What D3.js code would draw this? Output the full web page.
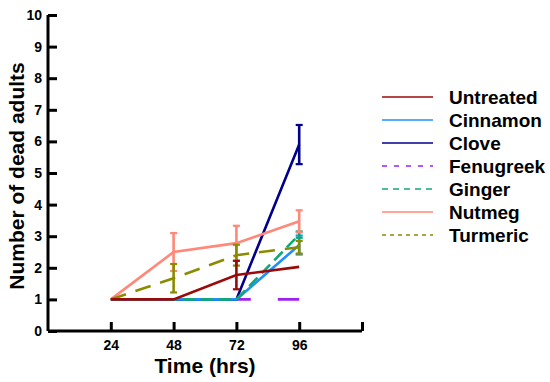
<!DOCTYPE html>
<html>
<head>
<meta charset="utf-8">
<script src="https://cdn.jsdelivr.net/npm/d3@7"></script>
<style>
  body { margin: 0; background: #fff; }
  text { font-family: Arial, "Liberation Sans", sans-serif; font-weight: bold; }
</style>
</head>
<body>
<svg id="chart"></svg>
<script>
const width = 550;
const height = 382;

// Data
const times = [24, 48, 72, 96];
const series = ['Untreated', 'Cinnamon', 'Clove', 'Fenugreek', 'Ginger', 'Nutmeg', 'Turmeric'];
const untreated = [1, 1, 1.77, 2.03];
const cinnamon = [1, 1, 1, 2.72];
const clove = [1, 1, 1, 5.9];
const fenugreek = [1, 1, 1, 1];
const ginger = [1, 1, 1, 3.05];
const nutmeg = [1, 2.5, 2.78, 3.47];
const turmeric = [1, 1.67, 2.4, 2.65];
// error (half-width) per point
const untreatedErr = [0, 0, 0.45, 0];
const cinnamonErr = [0, 0, 0, 0.3];
const cloveErr = [0, 0, 0, 0.62];
const fenugreekErr = [0, 0, 0, 0];
const gingerErr = [0, 0, 0, 0.1];
const nutmegErr = [0, 0.6, 0.55, 0.35];
const turmericErr = [0, 0.45, 0.33, 0.2];
const yTicks = [0, 1, 2, 3, 4, 5, 6, 7, 8, 9, 10];
const xTicks = [24, 48, 72, 96, 120];

const values = [untreated, cinnamon, clove, fenugreek, ginger, nutmeg, turmeric];
const errors = [untreatedErr, cinnamonErr, cloveErr, fenugreekErr, gingerErr, nutmegErr, turmericErr];
const colors = ['#9a0a0a', '#1e90ff', '#00008b', '#a020f0', '#10a878', '#ff8878', '#8b8b00'];
const dashes = [null, null, null, '26,27', '12,6', null, '16,10'];
const dashOffsets = [0, 0, 0, 45, 0, 0, 0];
const legendDashes = [null, null, null, '5,7', '6,5', null, '4,4'];
// which series sit on top: untreated drawn last
const drawOrder = [3, 2, 1, 4, 5, 6, 0];

const svg = d3.select('#chart').attr('width', width).attr('height', height);

const x = d3.scaleLinear().domain([0, 120]).range([48, 362]);
const y = d3.scaleLinear().domain([0, 10]).range([331, 15]);

// Series lines
const line = d3.line().x(d => x(d.t)).y(d => y(d.v));
drawOrder.forEach(i => {
    const pts = times.map((t, j) => ({ t, v: values[i][j], e: errors[i][j] }));
    const g = svg.append('g').attr('class', 'series');
    g.append('path')
        .datum(pts)
        .attr('d', line)
        .attr('fill', 'none')
        .attr('stroke', colors[i])
        .attr('stroke-width', 2.6)
        .attr('stroke-dasharray', dashes[i])
        .attr('stroke-dashoffset', dashOffsets[i]);
    // error bars
    const eb = pts.filter(d => d.e > 0);
    g.selectAll('.err').data(eb).enter().append('line')
        .attr('x1', d => x(d.t)).attr('x2', d => x(d.t))
        .attr('y1', d => y(d.v - d.e)).attr('y2', d => y(d.v + d.e))
        .attr('stroke', colors[i]).attr('stroke-width', 2.6);
    [-1, 1].forEach(s => {
        g.selectAll('.cap' + s).data(eb).enter().append('line')
            .attr('x1', d => x(d.t) - 3.5).attr('x2', d => x(d.t) + 3.5)
            .attr('y1', d => y(d.v + s * d.e)).attr('y2', d => y(d.v + s * d.e))
            .attr('stroke', colors[i]).attr('stroke-width', 2.2);
    });
});

// Axes
const yAxis = svg.append('g')
    .attr('transform', `translate(${x(0)},0)`)
    .call(d3.axisRight(y).tickValues(yTicks).tickSize(9).tickFormat(d3.format('d')));
yAxis.select('.domain').attr('d', `M0,${y(10)}V${y(0)}`);
yAxis.selectAll('text').attr('x', -6).attr('text-anchor', 'end')
    .style('font-size', '14px').style('font-weight', 'bold');

const xAxis = svg.append('g')
    .attr('transform', `translate(0,${y(0)})`)
    .call(d3.axisTop(x).tickValues(xTicks).tickSize(9).tickFormat(d => d === 120 ? '' : d));
xAxis.select('.domain').attr('d', `M${x(0)},0H${x(120)}`);
xAxis.selectAll('text').attr('y', 18.5).attr('dy', null)
    .style('font-size', '14px').style('font-weight', 'bold');

svg.selectAll('.domain').attr('stroke', '#000').attr('stroke-width', 3);
svg.selectAll('.tick line').attr('stroke', '#000').attr('stroke-width', 3);
svg.selectAll('.tick text').attr('fill', '#000').style('font-family', 'Arial, "Liberation Sans", sans-serif');

// Axis titles
svg.append('text')
    .attr('x', 205).attr('y', 373)
    .attr('text-anchor', 'middle')
    .style('font-size', '21px')
    .text('Time (hrs)');

svg.append('text')
    .attr('transform', 'translate(24,176) rotate(-90)')
    .attr('text-anchor', 'middle')
    .style('font-size', '21px')
    .text('Number of dead adults');

// Legend
const legend = svg.append('g').attr('transform', 'translate(382,97)');
series.forEach((name, i) => {
    const row = legend.append('g').attr('transform', `translate(0,${i * 23})`);
    row.append('line')
        .attr('x1', 0).attr('x2', 51).attr('y1', 0).attr('y2', 0)
        .attr('stroke', colors[i]).attr('stroke-width', 1.6)
        .attr('stroke-dasharray', legendDashes[i]);
    row.append('text')
        .attr('x', 67).attr('y', 7)
        .style('font-size', '19px')
        .text(name);
});
</script>
</body>
</html>
